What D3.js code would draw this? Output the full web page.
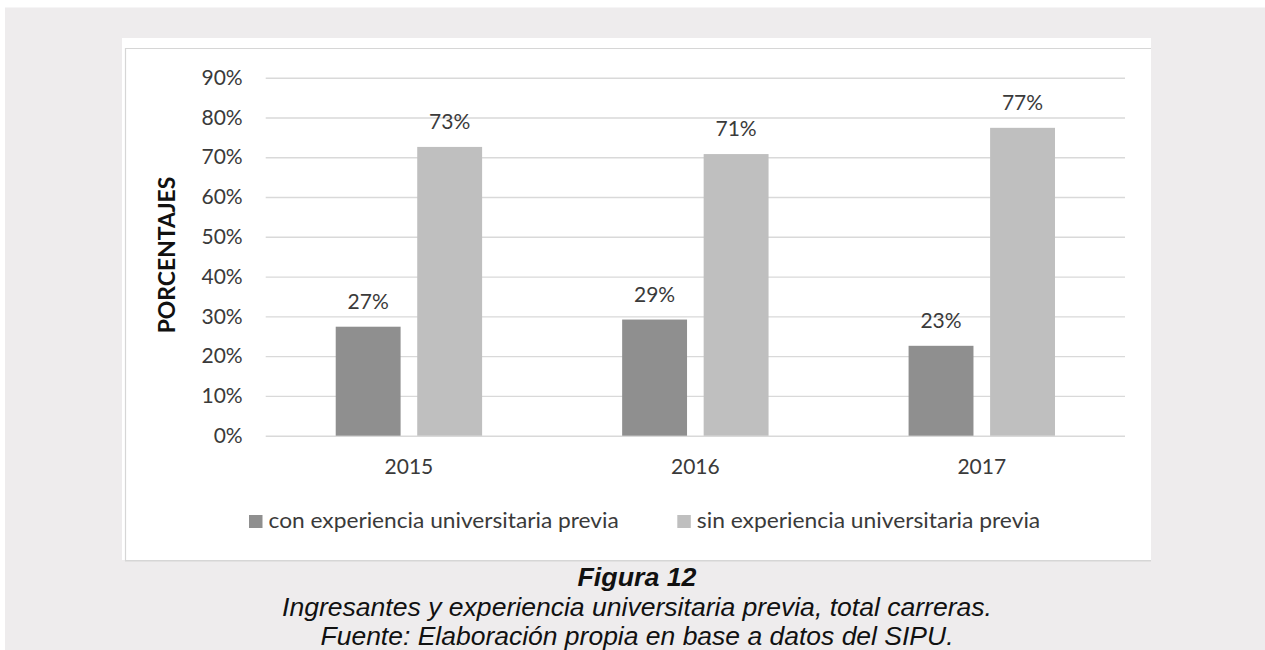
<!DOCTYPE html>
<html>
<head>
<meta charset="utf-8">
<script src="https://cdn.jsdelivr.net/npm/d3@7"></script>
<style>
  html, body { margin: 0; padding: 0; background: #ffffff; }
  svg { display: block; }
</style>
</head>
<body>
<svg id="chart" width="1265" height="650"></svg>
<script>
// ---- data ----
const years = ["2015", "2016", "2017"];
const seriesNames = ["con experiencia universitaria previa", "sin experiencia universitaria previa"];
const conValues = [27.4, 29.2, 22.6];
const sinValues = [72.6, 70.8, 77.4];
const yTicks = [0, 10, 20, 30, 40, 50, 60, 70, 80, 90];
const seriesColors = ["#8f8f8f", "#bfbfbf"];
const yTitle = "PORCENTAJES";
const captionLines = [
  "Figura 12",
  "Ingresantes y experiencia universitaria previa, total carreras.",
  "Fuente: Elaboración propia en base a datos del SIPU."
];

const rows = years.map((yr, i) => ({ year: yr, values: [conValues[i], sinValues[i]] }));

const svg = d3.select("#chart");

// page background
svg.append("rect").attr("x", 5).attr("y", 7.5).attr("width", 1260).attr("height", 642.5).attr("fill", "#eeeced");
// white chart panel
svg.append("rect").attr("x", 122).attr("y", 38).attr("width", 1029).attr("height", 522).attr("fill", "#ffffff");
// panel border lines
const borderCol = "#d6d6d6";
svg.append("line").attr("x1", 125).attr("x2", 1151).attr("y1", 48.5).attr("y2", 48.5).attr("stroke", borderCol).attr("stroke-width", 1.2);
svg.append("line").attr("x1", 125.5).attr("x2", 125.5).attr("y1", 48).attr("y2", 561).attr("stroke", borderCol).attr("stroke-width", 1.2);
svg.append("line").attr("x1", 125).attr("x2", 1151).attr("y1", 560.8).attr("y2", 560.8).attr("stroke", borderCol).attr("stroke-width", 1.5);

// ---- scales ----
const plotLeft = 265.7, plotRight = 1125, plotBottom = 435.7, plotTop = 77.7;
const y = d3.scaleLinear().domain([0, 90]).range([plotBottom, plotTop]);
const x0 = d3.scaleBand().domain(years).range([plotLeft, plotRight]).padding(0);
const pairWidth = 146.4;
const x1 = d3.scaleBand().domain([0, 1])
  .range([(x0.bandwidth() - pairWidth) / 2, (x0.bandwidth() + pairWidth) / 2])
  .paddingInner(0.204).paddingOuter(0);

const textCol = "#3a3a3a";
const fontFam = "Lato, 'Open Sans', sans-serif";

// ---- y axis with gridlines ----
const yAxis = d3.axisLeft(y).tickValues(yTicks)
  .tickFormat(d => d + "%")
  .tickSizeInner(-(plotRight - plotLeft)).tickSizeOuter(0).tickPadding(23);
const gy = svg.append("g").attr("transform", `translate(${plotLeft},0)`).call(yAxis);
gy.select(".domain").remove();
gy.selectAll(".tick line").attr("stroke", "#d9d9d9").attr("stroke-width", 1.4);
gy.selectAll(".tick text").attr("fill", textCol).attr("font-size", 21).attr("font-family", fontFam);

// ---- x axis ----
const xAxis = d3.axisBottom(x0).tickSize(0).tickPadding(23.4);
const gx = svg.append("g").attr("transform", `translate(0,${plotBottom})`).call(xAxis);
gx.select(".domain").remove();
gx.selectAll(".tick text").attr("fill", textCol).attr("font-size", 21).attr("font-family", fontFam);

// ---- bars ----
const groups = svg.append("g").selectAll("g").data(rows).join("g")
  .attr("transform", d => `translate(${x0(d.year)},0)`);
groups.selectAll("rect").data(d => d.values.map((v, i) => ({ v, i }))).join("rect")
  .attr("x", d => x1(d.i))
  .attr("width", x1.bandwidth())
  .attr("y", d => y(d.v))
  .attr("height", d => y(0) - y(d.v))
  .attr("fill", d => seriesColors[d.i]);
groups.selectAll("text").data(d => d.values.map((v, i) => ({ v, i }))).join("text")
  .attr("x", d => x1(d.i) + x1.bandwidth() / 2)
  .attr("y", d => y(d.v) - 17.7)
  .attr("text-anchor", "middle")
  .attr("fill", textCol).attr("font-size", 21).attr("font-family", fontFam)
  .text(d => Math.round(d.v) + "%");

// ---- y title ----
svg.append("text")
  .attr("transform", "translate(174.5,255) rotate(-90)")
  .attr("text-anchor", "middle")
  .attr("font-weight", "bold").attr("font-size", 22).attr("font-family", fontFam)
  .attr("fill", "#111")
  .attr("textLength", 156.7).attr("lengthAdjust", "spacingAndGlyphs")
  .text(yTitle);

// ---- legend ----
const legendX = [249, 677.3];
const legendW = [350.3, 343.4];
const lg = svg.append("g").selectAll("g").data(seriesNames).join("g")
  .attr("transform", (d, i) => `translate(${legendX[i]},515)`);
lg.append("rect").attr("width", 13.5).attr("height", 13).attr("fill", (d, i) => seriesColors[i]);
lg.append("text").attr("x", 19.5).attr("y", 12.5)
  .attr("fill", textCol).attr("font-size", 21).attr("font-family", fontFam)
  .attr("textLength", (d, i) => legendW[i]).attr("lengthAdjust", "spacingAndGlyphs")
  .text(d => d);

// ---- caption ----
const capY = [586.2, 615.8, 644.6];
const capW = [119, 710, 633];
svg.append("g").selectAll("text").data(captionLines).join("text")
  .attr("x", 637).attr("y", (d, i) => capY[i])
  .attr("text-anchor", "middle")
  .attr("font-family", "'Liberation Sans', Arial, sans-serif")
  .attr("font-style", "italic")
  .attr("font-weight", (d, i) => i === 0 ? "bold" : "normal")
  .attr("font-size", 25)
  .attr("fill", "#111")
  .attr("textLength", (d, i) => capW[i]).attr("lengthAdjust", "spacingAndGlyphs")
  .text(d => d);
</script>
</body>
</html>
